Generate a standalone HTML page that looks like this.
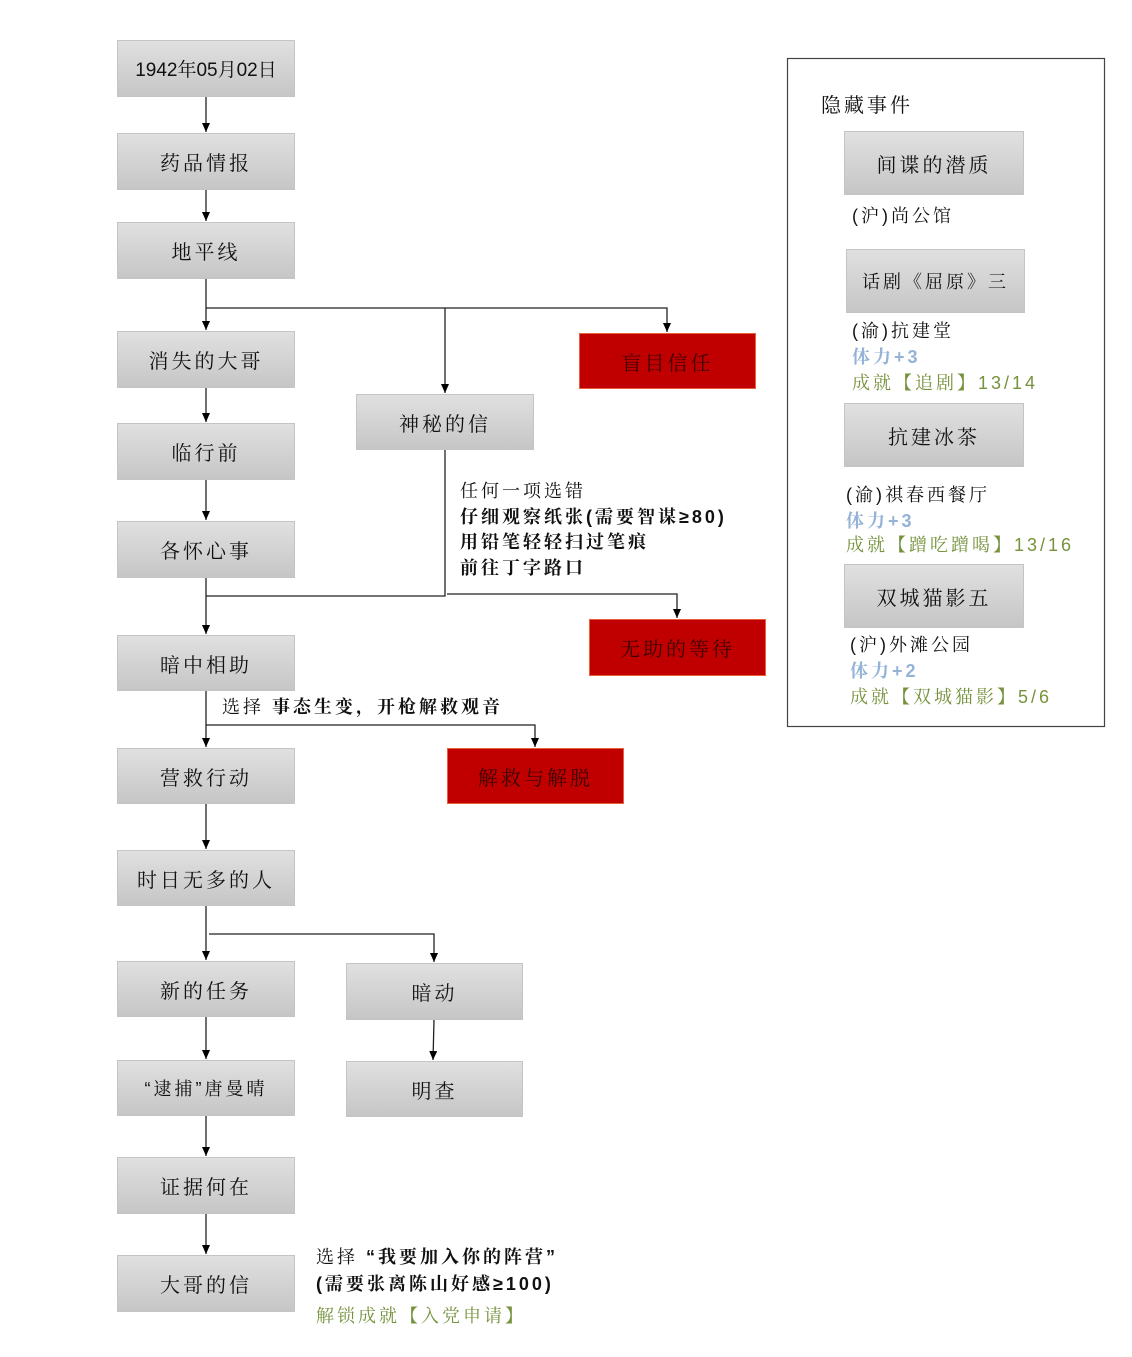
<!DOCTYPE html>
<html><head><meta charset="utf-8"><style>
body{margin:0;width:1132px;height:1357px;background:#fff;position:relative;overflow:hidden;font-family:"Liberation Sans","Noto Serif CJK SC",serif;}
.b{position:absolute;box-sizing:border-box;border:1px solid #c4c4c4;background:linear-gradient(#e0e0e0,#c6c6c6);display:flex;align-items:center;justify-content:center;font-size:20px;letter-spacing:3px;color:#111;}
.r{position:absolute;box-sizing:border-box;border:1px solid #e8603c;background:#c00000;display:flex;align-items:center;justify-content:center;font-size:20px;letter-spacing:3px;color:#3a0000;}
.t{position:absolute;font-size:18px;letter-spacing:3px;color:#111;white-space:nowrap;line-height:1;}
.bold{font-weight:bold;}
.bl{color:#95b3d7;}
.gr{color:#76923c;}
svg{position:absolute;left:0;top:0;}
</style></head><body>
<svg width="1132" height="1357">
<defs><marker id="a" markerWidth="9" markerHeight="8" refX="9" refY="4" orient="auto" markerUnits="userSpaceOnUse"><path d="M0,0 L9,4 L0,8 z" fill="#000"/></marker></defs>
<g stroke="#222" stroke-width="1.3" fill="none">
<line x1="206" y1="97" x2="206" y2="132" marker-end="url(#a)"/>
<line x1="206" y1="190" x2="206" y2="221" marker-end="url(#a)"/>
<line x1="206" y1="279" x2="206" y2="330" marker-end="url(#a)"/>
<polyline points="206,308 667,308 667,332" marker-end="url(#a)"/>
<line x1="445" y1="308" x2="445" y2="393" marker-end="url(#a)"/>
<line x1="206" y1="388" x2="206" y2="422" marker-end="url(#a)"/>
<line x1="206" y1="480" x2="206" y2="520" marker-end="url(#a)"/>
<line x1="206" y1="578" x2="206" y2="634" marker-end="url(#a)"/>
<polyline points="445,450 445,596 206,596"/>
<polyline points="447,594 677,594 677,618" marker-end="url(#a)"/>
<line x1="206" y1="691" x2="206" y2="747" marker-end="url(#a)"/>
<polyline points="206,725 535,725 535,747" marker-end="url(#a)"/>
<line x1="206" y1="804" x2="206" y2="849" marker-end="url(#a)"/>
<line x1="206" y1="906" x2="206" y2="960" marker-end="url(#a)"/>
<polyline points="209,934 434,934 434,962" marker-end="url(#a)"/>
<line x1="434" y1="1020" x2="433" y2="1060" marker-end="url(#a)"/>
<line x1="206" y1="1017" x2="206" y2="1059" marker-end="url(#a)"/>
<line x1="206" y1="1116" x2="206" y2="1156" marker-end="url(#a)"/>
<line x1="206" y1="1214" x2="206" y2="1254" marker-end="url(#a)"/>
</g>
<rect x="787.5" y="58.5" width="317" height="668" fill="none" stroke="#444" stroke-width="1.2"/>
</svg>
<div class="b" style="left:117px;top:40px;width:178px;height:57px;letter-spacing:0;font-size:19px">1942年05月02日</div>
<div class="b" style="left:117px;top:133px;width:178px;height:57px">药品情报</div>
<div class="b" style="left:117px;top:222px;width:178px;height:57px">地平线</div>
<div class="b" style="left:117px;top:331px;width:178px;height:57px">消失的大哥</div>
<div class="b" style="left:117px;top:423px;width:178px;height:57px">临行前</div>
<div class="b" style="left:117px;top:521px;width:178px;height:57px">各怀心事</div>
<div class="b" style="left:117px;top:635px;width:178px;height:56px">暗中相助</div>
<div class="b" style="left:117px;top:748px;width:178px;height:56px">营救行动</div>
<div class="b" style="left:117px;top:850px;width:178px;height:56px">时日无多的人</div>
<div class="b" style="left:117px;top:961px;width:178px;height:56px">新的任务</div>
<div class="b" style="left:117px;top:1060px;width:178px;height:56px;font-size:18px">“逮捕”唐曼晴</div>
<div class="b" style="left:117px;top:1157px;width:178px;height:57px">证据何在</div>
<div class="b" style="left:117px;top:1255px;width:178px;height:57px">大哥的信</div>
<div class="b" style="left:356px;top:394px;width:178px;height:56px">神秘的信</div>
<div class="b" style="left:346px;top:963px;width:177px;height:57px">暗动</div>
<div class="b" style="left:346px;top:1061px;width:177px;height:56px">明查</div>
<div class="r" style="left:579px;top:333px;width:177px;height:56px">盲目信任</div>
<div class="r" style="left:589px;top:619px;width:177px;height:57px">无助的等待</div>
<div class="r" style="left:447px;top:748px;width:177px;height:56px">解救与解脱</div>
<div class="t" style="left:460px;top:482px">任何一项选错</div>
<div class="t bold" style="left:460px;top:508px">仔细观察纸张(需要智谋≥80)</div>
<div class="t bold" style="left:460px;top:533px">用铅笔轻轻扫过笔痕</div>
<div class="t bold" style="left:460px;top:559px">前往丁字路口</div>
<div class="t" style="left:222px;top:698px">选择 <span class="bold">事态生变，开枪解救观音</span></div>
<div class="t" style="left:316px;top:1248px">选择 <span class="bold">“我要加入你的阵营”</span></div>
<div class="t bold" style="left:316px;top:1275px">(需要张离陈山好感≥100)</div>
<div class="t gr" style="left:316px;top:1307px">解锁成就【入党申请】</div>
<div class="t" style="left:821px;top:96px;font-size:20px">隐藏事件</div>
<div class="b" style="left:844px;top:131px;width:180px;height:64px">间谍的潜质</div>
<div class="t" style="left:852px;top:207px">(沪)尚公馆</div>
<div class="b" style="left:846px;top:249px;width:179px;height:64px;font-size:18px">话剧《屈原》三</div>
<div class="t" style="left:852px;top:322px">(渝)抗建堂</div>
<div class="t bl bold" style="left:852px;top:348px">体力+3</div>
<div class="t gr" style="left:852px;top:374px">成就【追剧】13/14</div>
<div class="b" style="left:844px;top:403px;width:180px;height:64px">抗建冰茶</div>
<div class="t" style="left:846px;top:486px">(渝)祺春西餐厅</div>
<div class="t bl bold" style="left:846px;top:512px">体力+3</div>
<div class="t gr" style="left:846px;top:536px">成就【蹭吃蹭喝】13/16</div>
<div class="b" style="left:844px;top:564px;width:180px;height:64px">双城猫影五</div>
<div class="t" style="left:850px;top:636px">(沪)外滩公园</div>
<div class="t bl bold" style="left:850px;top:662px">体力+2</div>
<div class="t gr" style="left:850px;top:688px">成就【双城猫影】5/6</div>
</body></html>
